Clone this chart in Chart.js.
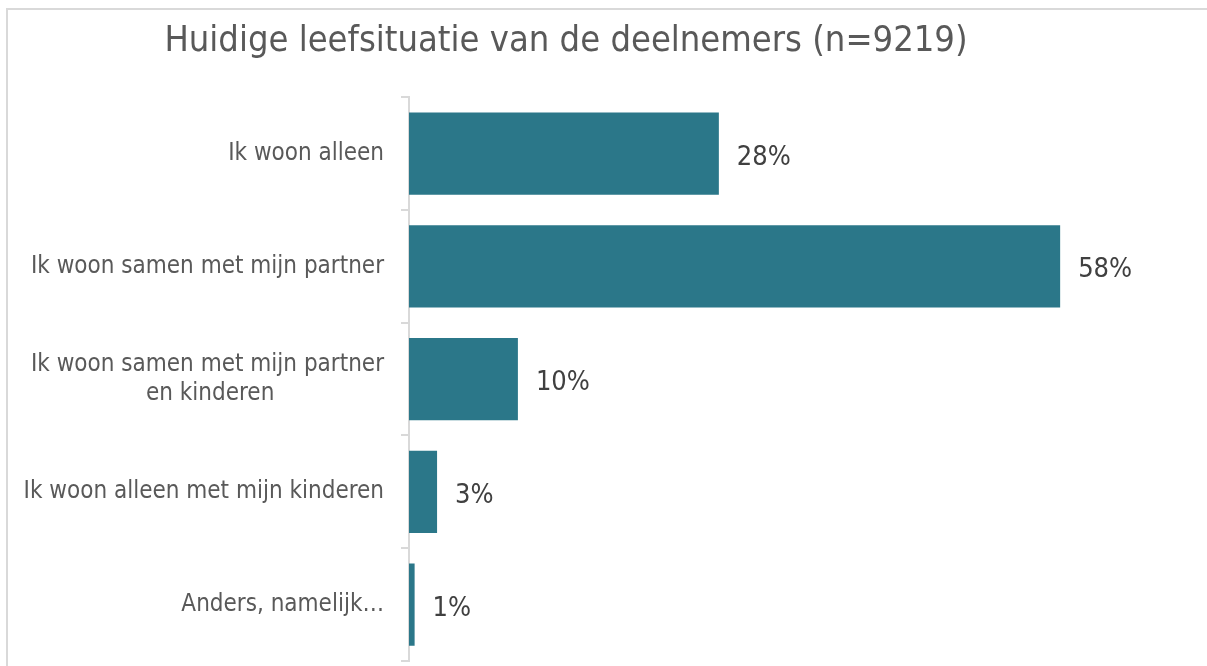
<!DOCTYPE html>
<html>
<head>
<meta charset="utf-8">
<script src="https://cdn.jsdelivr.net/npm/chart.js@4"></script>
<style>
  html, body { margin: 0; padding: 0; background: #fff; overflow: hidden; }
  #frame { position: absolute; left: 6px; top: 8px; width: 1400px; height: 800px; border: 2px solid #d9d9d9; box-sizing: border-box; }
  #chart { position: absolute; left: 0; top: 0; }
</style>
</head>
<body>
<div id="frame"></div>
<canvas id="chart" width="1207" height="666"></canvas>
<script>
var titleText = 'Huidige leefsituatie van de deelnemers (n=9219)';
var categories = [
    'Ik woon alleen',
    'Ik woon samen met mijn partner',
    ['Ik woon samen met mijn partner', 'en kinderen'.padEnd(27, ' ')],
    'Ik woon alleen met mijn kinderen',
    'Anders, namelijk\u2026'
];
var percentages = [27.6, 58.0, 9.7, 2.5, 0.5];

var fontFamily = '"DejaVu Sans Condensed", "DejaVu Sans", sans-serif';

// draws the % labels right of each bar
var valueLabels = {
    id: 'valueLabels',
    afterDatasetsDraw: function (chart) {
        var ctx = chart.ctx;
        var meta = chart.getDatasetMeta(0);
        ctx.save();
        ctx.font = '27px ' + fontFamily;
        ctx.fillStyle = '#404040';
        ctx.textAlign = 'left';
        ctx.textBaseline = 'middle';
        meta.data.forEach(function (bar, i) {
            ctx.fillText(Math.round(percentages[i]) + '%', bar.x + 18, bar.y + 4);
        });
        ctx.restore();
    }
};

var ctx = document.getElementById('chart').getContext('2d');
var chart = new Chart(ctx, {
    type: 'bar',
    data: {
        labels: categories,
        datasets: [{
            data: percentages,
            backgroundColor: '#2b7789',
            barPercentage: 0.73,
            categoryPercentage: 1
        }]
    },
    options: {
        indexAxis: 'y',
        responsive: false,
        animation: false,
        layout: { padding: { left: 0, right: 75, bottom: 5, top: 0 } },
        plugins: {
            legend: { display: false },
            tooltip: { enabled: false },
            title: {
                display: true,
                text: titleText,
                color: '#595959',
                font: { family: fontFamily, size: 36, weight: 'normal' },
                padding: { top: 20, bottom: 34 }
            }
        },
        scales: {
            x: {
                display: false,
                min: 0,
                max: 64.4
            },
            y: {
                afterFit: function (scale) {
                    scale.width = 409;
                    scale.paddingTop = 0;
                    scale.paddingBottom = 0;
                },
                grid: {
                    drawOnChartArea: false,
                    drawTicks: true,
                    tickLength: 8,
                    color: '#d9d9d9',
                    lineWidth: 2,
                    offset: true
                },
                border: { display: true, color: '#d9d9d9', width: 2 },
                ticks: {
                    color: '#595959',
                    padding: 17,
                    font: { family: fontFamily, size: 24 }
                }
            }
        }
    },
    plugins: [valueLabels]
});
</script>
</body>
</html>
